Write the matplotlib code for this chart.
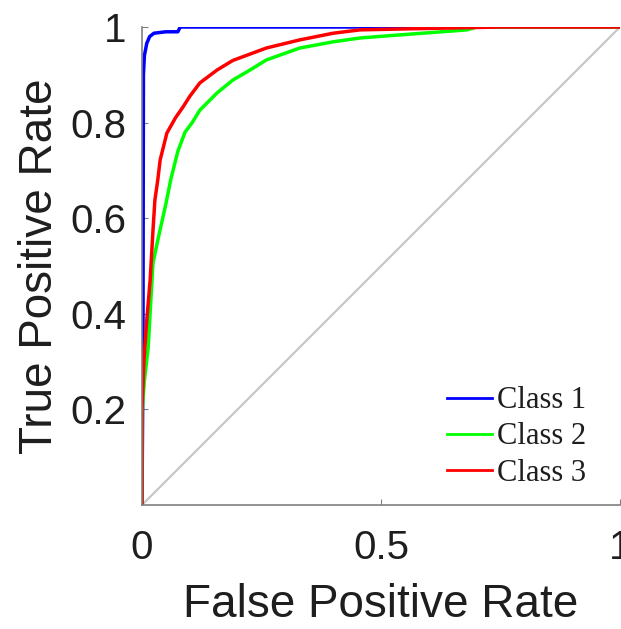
import matplotlib
matplotlib.use("Agg")
import matplotlib.pyplot as plt

# ROC data
class1_fpr = [0, 0.002, 0.003, 0.005, 0.01, 0.016, 0.025, 0.05, 0.075, 0.08, 1.0]
class1_tpr = [0, 0.30, 0.90, 0.94, 0.966, 0.98, 0.987, 0.99, 0.99, 1.0, 1.0]

class2_fpr = [0, 0, 0.005, 0.013, 0.018, 0.023, 0.033, 0.05, 0.06, 0.075, 0.09, 0.105,
              0.121, 0.157, 0.19, 0.226, 0.26, 0.33, 0.40, 0.456, 0.52, 0.6, 0.68, 0.7, 1.0]
class2_tpr = [0, 0.19, 0.26, 0.33, 0.42, 0.506, 0.554, 0.63, 0.68, 0.74, 0.78, 0.80,
              0.826, 0.862, 0.889, 0.91, 0.931, 0.956, 0.969, 0.977, 0.982, 0.988, 0.994, 1.0, 1.0]

class3_fpr = [0, 0, 0.004, 0.01, 0.017, 0.023, 0.027, 0.033, 0.038, 0.052, 0.07, 0.086,
              0.1, 0.121, 0.157, 0.19, 0.26, 0.33, 0.40, 0.456, 0.55, 0.65, 0.75, 1.0]
class3_tpr = [0, 0.2, 0.3, 0.387, 0.47, 0.575, 0.638, 0.68, 0.722, 0.778, 0.81, 0.833,
              0.855, 0.883, 0.91, 0.93, 0.956, 0.973, 0.987, 0.994, 0.996, 0.998, 1.0, 1.0]

series_labels = ["Class 1", "Class 2", "Class 3"]
colors = ["#0000ff", "#00ff00", "#ff0000"]

xticks = [0, 0.5, 1]
xtick_labels = ["0", "0.5", "1"]
yticks = [0.2, 0.4, 0.6, 0.8, 1]
ytick_labels = ["0.2", "0.4", "0.6", "0.8", "1"]

SANS = ["Liberation Sans", "DejaVu Sans"]
TXT = "#1e1e1e"

fig = plt.figure(figsize=(6.21, 6.29), dpi=100)
ax = fig.add_axes([142 / 621, 124 / 629, 478 / 621, 478 / 629])

ax.plot([0, 1], [0, 1], color="#c8c8c8", lw=1.6, zorder=1)
for fpr, tpr, lab, c in zip([class1_fpr, class2_fpr, class3_fpr],
                            [class1_tpr, class2_tpr, class3_tpr],
                            series_labels, colors):
    ax.plot(fpr, tpr, color=c, lw=2.5, label=lab, zorder=2)

ax.set_xlim(0, 1)
ax.set_ylim(0, 1)
ax.set_xticks(xticks)
ax.set_xticklabels(xtick_labels)
ax.set_yticks(yticks)
ax.set_yticklabels(ytick_labels)

for s in ["top", "right"]:
    ax.spines[s].set_visible(False)
for s in ["left", "bottom"]:
    ax.spines[s].set_color("#808080")
    ax.spines[s].set_linewidth(1.2)

ax.tick_params(direction="in", length=4, color="#808080", labelsize=29,
               labelcolor=TXT)
ax.tick_params(axis="x", pad=17)
ax.tick_params(axis="y", pad=11)
for t in ax.get_xticklabels() + ax.get_yticklabels():
    t.set_family(SANS)

ax.set_xlabel("False Positive Rate", fontsize=33, family=SANS, color=TXT, labelpad=12)
ax.set_ylabel("True Positive Rate", fontsize=33, family=SANS, color=TXT, labelpad=6)

leg = ax.legend(loc="upper left", bbox_to_anchor=(0.638, 0.248), frameon=False,
                prop={"family": "Liberation Serif", "size": 22},
                handlelength=1.47, handletextpad=0.16, labelspacing=0.23,
                borderaxespad=0, borderpad=0)
for h in leg.get_lines():
    h.set_linewidth(2)
for t in leg.get_texts():
    t.set_color(TXT)

fig.savefig("out.png", dpi=100)
